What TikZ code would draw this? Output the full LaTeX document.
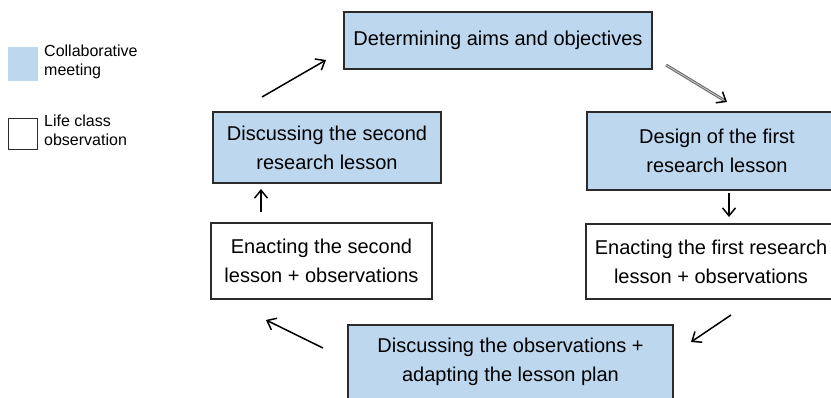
\documentclass[tikz,border=0pt]{standalone}
\usepackage{fontspec}
\setmainfont{Liberation Sans}
\usetikzlibrary{arrows.meta}
\definecolor{azulreunion}{HTML}{BDD7EE}
\definecolor{bordecaja}{HTML}{2B2B2B}

\begin{document}
\begin{tikzpicture}[x=1pt, y=-1pt,
        caja/.style={draw=bordecaja, line width=1.3pt, align=center, inner sep=0pt,
            font=\fontsize{20}{29}\selectfont},
        reunion/.style={caja, fill=azulreunion},
        clase/.style={caja, fill=white},
        flecha/.style={line width=1.5pt, -{Straight Barb[length=8pt, width=13pt, line width=1.5pt]}},
        leyenda/.style={anchor=west, align=left, inner sep=0pt, font=\fontsize{16}{19}\selectfont}]
        \useasboundingbox (0,0) rectangle (831,397);
        % Leyenda
        \node[fill=azulreunion, minimum width=30pt, minimum height=34pt, inner sep=0pt] (cuadroA) at (23,64) {};
        \node[leyenda] (textoA) at (44,62) {Collaborative\\meeting};
        \node[draw=bordecaja, line width=1.3pt, minimum width=29pt, minimum height=31pt, inner sep=0pt] (cuadroB) at (23,134) {};
        \node[leyenda] (textoB) at (44,130) {Life class\\observation};

        % Etapas del ciclo
        \node[reunion, minimum width=308pt, minimum height=57pt] (metas) at (498,40.5) {Determining aims and objectives};
        \node[reunion, minimum width=260pt, minimum height=78pt] (diseno) at (717,151) {Design of the first\\research lesson};
        \node[clase, minimum width=250pt, minimum height=75pt] (clase1) at (711,261.5) {Enacting the first research\\lesson + observations};
        \node[reunion, minimum width=325pt, minimum height=74pt] (discusion) at (510.5,362) {Discussing the observations +\\adapting the lesson plan};
        \node[clase, minimum width=221pt, minimum height=76pt] (clase2) at (321.5,261) {Enacting the second\\lesson + observations};
        \node[reunion, minimum width=228pt, minimum height=71pt] (discusion2) at (327,147.5) {Discussing the second\\research lesson};

        % Extremos de las flechas
        \coordinate (f1a) at (262,97);  \coordinate (f1b) at (326,60);
        \coordinate (f2a) at (666,65);  \coordinate (f2b) at (727,102);
        \coordinate (f3a) at (729,193); \coordinate (f3b) at (729,217);
        \coordinate (f4a) at (731,315); \coordinate (f4b) at (691,342);
        \coordinate (f5a) at (323,348); \coordinate (f5b) at (266,320);
        \coordinate (f6a) at (261,212); \coordinate (f6b) at (261,189);

        % Flechas del ciclo
        \draw[flecha] (f1a) -- (f1b);
        \draw[flecha, draw=gray!80!black, double=gray!45, double distance=0.9pt, line width=1pt,
            -{Straight Barb[length=8pt, width=13pt, line width=1.5pt, color=black]}] (f2a) -- (f2b);
        \draw[flecha] (f3a) -- (f3b);
        \draw[flecha] (f4a) -- (f4b);
        \draw[flecha] (f5a) -- (f5b);
        \draw[flecha] (f6a) -- (f6b);
    \end{tikzpicture}
\end{document}
